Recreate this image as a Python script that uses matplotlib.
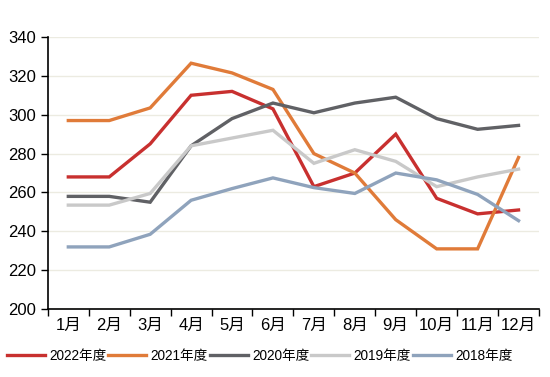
import numpy as np
import matplotlib.pyplot as plt

plt.rcParams["font.family"] = ["Liberation Sans", "Noto Sans CJK SC"]

months = ["1月", "2月", "3月", "4月", "5月", "6月",
          "7月", "8月", "9月", "10月", "11月", "12月"]

y2022 = [268, 268, 285, 310, 312, 303, 263, 270, 290, 257, 249, 251]
y2021 = [297, 297, 303.5, 326.5, 321.5, 313, 280, 270, 246, 231, 231, 278]
y2020 = [258, 258, 255, 284, 298, 306, 301, 306, 309, 298, 292.5, 294.5]
y2019 = [253.5, 253.5, 259.5, 284, 288, 292, 275, 282, 276, 263, 268, 272]
y2018 = [232, 232, 238.5, 256, 262, 267.5, 262.5, 259.5, 270, 266.5, 259, 245.5]

series = [
    ("2022年度", y2022, "#C8302F"),
    ("2021年度", y2021, "#E07B39"),
    ("2020年度", y2020, "#606165"),
    ("2019年度", y2019, "#C9C9C9"),
    ("2018年度", y2018, "#8FA3BC"),
]

fig = plt.figure(figsize=(5.5, 3.77), dpi=100)
ax = fig.add_axes([0.087, 0.18, 0.893, 0.722])

x = np.arange(len(months))
for name, vals, col in series:
    ax.plot(x, vals, color=col, lw=2.4, label=name, solid_joinstyle="miter")

ax.set_xlim(-0.5, len(months) - 0.5)
ax.set_ylim(200, 340)
ax.set_yticks(np.arange(200, 341, 20))
ax.set_xticks(x)
ax.set_xticklabels(months)
ax.set_xticks(np.arange(-0.5, len(months)), minor=True)
ax.tick_params(axis="x", which="major", length=0, labelsize=12, pad=6)
ax.tick_params(axis="x", which="minor", length=5, width=1)
ax.tick_params(axis="y", length=5, width=1, labelsize=12)

ax.grid(axis="y", color="#ECEBE1", lw=1)
ax.set_axisbelow(True)
for s in ["top", "right"]:
    ax.spines[s].set_visible(False)
for s in ["left", "bottom"]:
    ax.spines[s].set_linewidth(1.2)

fig.legend(loc="center", bbox_to_anchor=(0.472, 0.056), ncol=5, frameon=False,
           fontsize=9.8, handlelength=2.8, handletextpad=0.3, columnspacing=0.15)

plt.savefig("out.png", dpi=100)
